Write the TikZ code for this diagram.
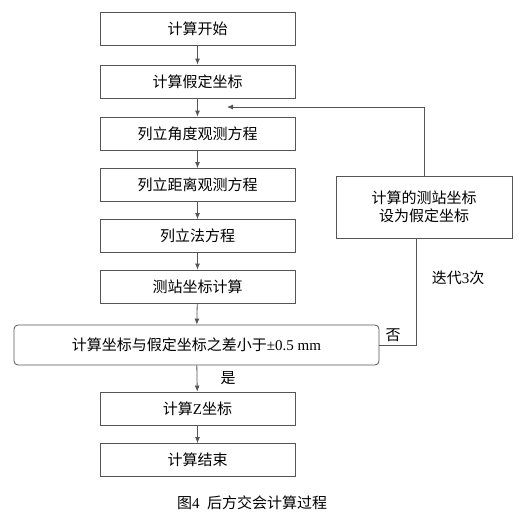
\documentclass[tikz,border=0pt]{standalone}
\usepackage{fontspec}
\setmainfont{Liberation Serif}
\newfontfamily\cjk{Noto Sans CJK SC}
\usetikzlibrary{arrows.meta}
\definecolor{boxgray}{RGB}{85,85,85}

\begin{document}
\begin{tikzpicture}[x=1pt, y=-1pt, >={Latex[length=6pt, width=5pt]},
    stepbox/.style={draw=boxgray, line width=0.8pt, minimum width=195pt,
      minimum height=33pt, inner sep=0pt, font=\fontsize{15}{18}\selectfont},
    flow/.style={draw=boxgray, line width=0.8pt},
    tag/.style={font=\fontsize{15}{18}\selectfont}]
    \useasboundingbox (0,0) rectangle (528,520);
    % main column
    \node[stepbox] (start) at (197.5, 29) {\cjk 计算开始};
    \node[stepbox] (guess) at (197.5, 81.5) {\cjk 计算假定坐标};
    \node[stepbox] (angle) at (197.5, 133.5) {\cjk 列立角度观测方程};
    \node[stepbox] (dist) at (197.5, 185) {\cjk 列立距离观测方程};
    \node[stepbox] (normal) at (197.5, 236) {\cjk 列立法方程};
    \node[stepbox] (solve) at (197.5, 286.5) {\cjk 测站坐标计算};
    \node[stepbox, minimum width=365pt, minimum height=40pt, rounded corners=4pt]
      (check) at (196.5, 345) {{\cjk 计算坐标与假定坐标之差小于}±0.5 mm};
    \node[stepbox] (zcoord) at (197.5, 408.5) {{\cjk 计算}Z{\cjk 坐标}};
    \node[stepbox] (finish) at (197.5, 460) {\cjk 计算结束};
    % loop back
    \node[stepbox, minimum width=176pt, minimum height=62pt, align=center]
      (reset) at (424, 207) {\cjk 计算的测站坐标\\\cjk 设为假定坐标};
    \coordinate (loopin) at (227, 107);
    \draw[flow, ->] (start) -- (guess);
    \draw[flow, ->] (guess) -- (angle);
    \draw[flow, ->] (angle) -- (dist);
    \draw[flow, ->] (dist) -- (normal);
    \draw[flow, ->] (normal) -- (solve);
    \draw[flow, ->] (solve) -- (check);
    \draw[flow, ->] (check) -- (zcoord);
    \draw[flow, ->] (zcoord) -- (finish);
    \draw[flow] (check.east) -| ([xshift=-8pt]reset.south);
    \draw[flow, ->] (reset.north) |- (loopin);
    \node[tag] at (393, 335) {\cjk 否};
    \node[tag] at (228, 378) {\cjk 是};
    \node[tag] at (458, 278) {{\cjk 迭代}3{\cjk 次}};
    \node[tag] (caption) at (252, 503) {{\cjk 图}4\ \ {\cjk 后方交会计算过程}};
\end{tikzpicture}
\end{document}
